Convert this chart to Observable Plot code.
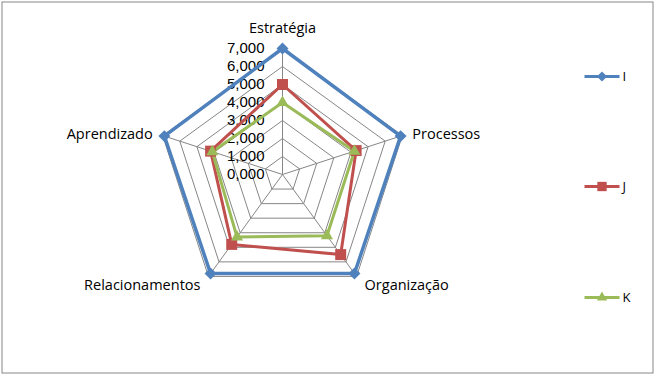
<!DOCTYPE html>
<html><head><meta charset="utf-8">
<script src="https://cdn.jsdelivr.net/npm/d3@7"></script>
<script src="https://cdn.jsdelivr.net/npm/@observablehq/plot@0.6"></script>
<style>body{margin:0;background:#fff} #chart svg{display:block}</style>
</head><body><div id="chart"></div>
<script>
// ---- data ----
const axes = ["Estratégia", "Processos", "Organização", "Relacionamentos", "Aprendizado"];
const seriesNames = ["I", "J", "K"];
const valuesI = [7.0, 6.9, 6.8, 6.8, 6.9];
const valuesJ = [5.0, 4.3, 5.5, 4.8, 4.2];
const valuesK = [4.0, 4.2, 4.2, 4.3, 4.1];
const tickValues = [0, 1, 2, 3, 4, 5, 6, 7];
const tickLabels = ["0,000", "1,000", "2,000", "3,000", "4,000", "5,000", "6,000", "7,000"];
const colors = ["#4F81BD", "#C0504D", "#9BBB59"];

// ---- layout ----
const W = 655, H = 377;
const CX = 282, CY = 174, U = 18; // center (px) and px per unit
const maxV = 7;
const n = axes.length;
const ang = i => i * 2 * Math.PI / n;
const px = (v, i) => v * Math.sin(ang(i));
const py = (v, i) => v * Math.cos(ang(i));

const seriesValues = [valuesI, valuesJ, valuesK];
const points = [];
seriesNames.forEach((s, k) => {
  for (let i = 0; i <= n; i++) {
    const j = i % n;
    points.push({series: s, axis: axes[j], idx: j, value: seriesValues[k][j], closing: i === n});
  }
});
const rings = [];
tickValues.filter(t => t > 0).forEach(t => {
  for (let i = 0; i <= n; i++) rings.push({t, idx: i % n});
});
const spokes = axes.map((a, i) => ({axis: a, idx: i}));

const rSize = {I: 5.4, J: 6.2, K: 4.5};
const widths = {I: 3.5, J: 3, K: 3};
const symbolMap = [d3.symbolDiamond2, d3.symbolSquare, d3.symbolTriangle];

// legend (pixel layout converted to data units)
const legendYpx = [76, 186, 297];
const legend = seriesNames.map((s, k) => ({series: s, ly: (CY - legendYpx[k]) / U}));
const lx1 = (584 - CX) / U, lx2 = (619 - CX) / U, lxm = (601.5 - CX) / U, ltx = (622 - CX) / U;

const lab = (filter) => spokes.filter(filter);
const AF = 14.5; // axis label font size

const chart = Plot.plot({
  width: W, height: H,
  margin: 0,
  style: {fontFamily: "'Open Sans', sans-serif", background: "#fff"},
  x: {domain: [-CX / U, (W - CX) / U], range: [0, W], axis: null},
  y: {domain: [-(H - CY) / U, CY / U], range: [H, 0], axis: null},
  color: {domain: seriesNames, range: colors},
  symbol: {domain: seriesNames, range: symbolMap},
  r: {type: "identity"},
  marks: [
    Plot.frame({stroke: "#868686", insetLeft: 1.5, insetTop: 1.5, insetRight: 2.5, insetBottom: 4.5}),
    // grid rings
    Plot.line(rings, {x: d => px(d.t, d.idx), y: d => py(d.t, d.idx), z: "t", stroke: "#868686", strokeWidth: 1}),
    // spokes
    Plot.link(spokes, {x1: 0, y1: 0, x2: d => px(maxV, d.idx), y2: d => py(maxV, d.idx), stroke: "#868686", strokeWidth: 1}),
    // tick labels
    Plot.text(tickValues, {x: 0, y: d => d, text: (d, i) => tickLabels[i], textAnchor: "end", dx: -18, fontSize: 15, fontFamily: "'Liberation Sans', Arial, sans-serif", fill: "#000"}),
    // series
    ...seriesNames.map(s => Plot.line(points.filter(p => p.series === s), {
      x: d => px(d.value, d.idx), y: d => py(d.value, d.idx), stroke: "series", strokeWidth: widths[s], strokeLinejoin: "miter"
    })),
    Plot.dot(points.filter(p => !p.closing), {
      x: d => px(d.value, d.idx), y: d => py(d.value, d.idx), symbol: "series", fill: "series", r: d => rSize[d.series], stroke: "none"
    }),
    // axis labels
    Plot.text(lab(d => d.idx === 0), {x: d => px(maxV, d.idx), y: d => py(maxV, d.idx), text: "axis", dy: -20, fontSize: AF, fill: "#000"}),
    Plot.text(lab(d => d.idx === 1), {x: d => px(maxV, d.idx), y: d => py(maxV, d.idx), text: "axis", textAnchor: "start", dx: 10, dy: -1, fontSize: AF, fill: "#000"}),
    Plot.text(lab(d => d.idx === 2), {x: d => px(maxV, d.idx), y: d => py(maxV, d.idx), text: "axis", textAnchor: "start", dx: 8, dy: 9, fontSize: AF, fill: "#000"}),
    Plot.text(lab(d => d.idx === 3), {x: d => px(maxV, d.idx), y: d => py(maxV, d.idx), text: "axis", textAnchor: "end", dx: -8, dy: 9, fontSize: AF, fill: "#000"}),
    Plot.text(lab(d => d.idx === 4), {x: d => px(maxV, d.idx), y: d => py(maxV, d.idx), text: "axis", textAnchor: "end", dx: -10, dy: -1, fontSize: AF, fill: "#000"}),
    // legend
    Plot.link(legend, {x1: lx1, x2: lx2, y1: "ly", y2: "ly", stroke: "series", strokeWidth: 3}),
    Plot.dot(legend, {x: lxm, y: "ly", symbol: "series", fill: "series", r: d => rSize[d.series] * 0.85, stroke: "none"}),
    Plot.text(legend, {x: ltx, y: "ly", text: "series", textAnchor: "start", fontSize: 13, fill: "#000"})
  ]
});
document.getElementById("chart").append(chart);
</script>
</body></html>
